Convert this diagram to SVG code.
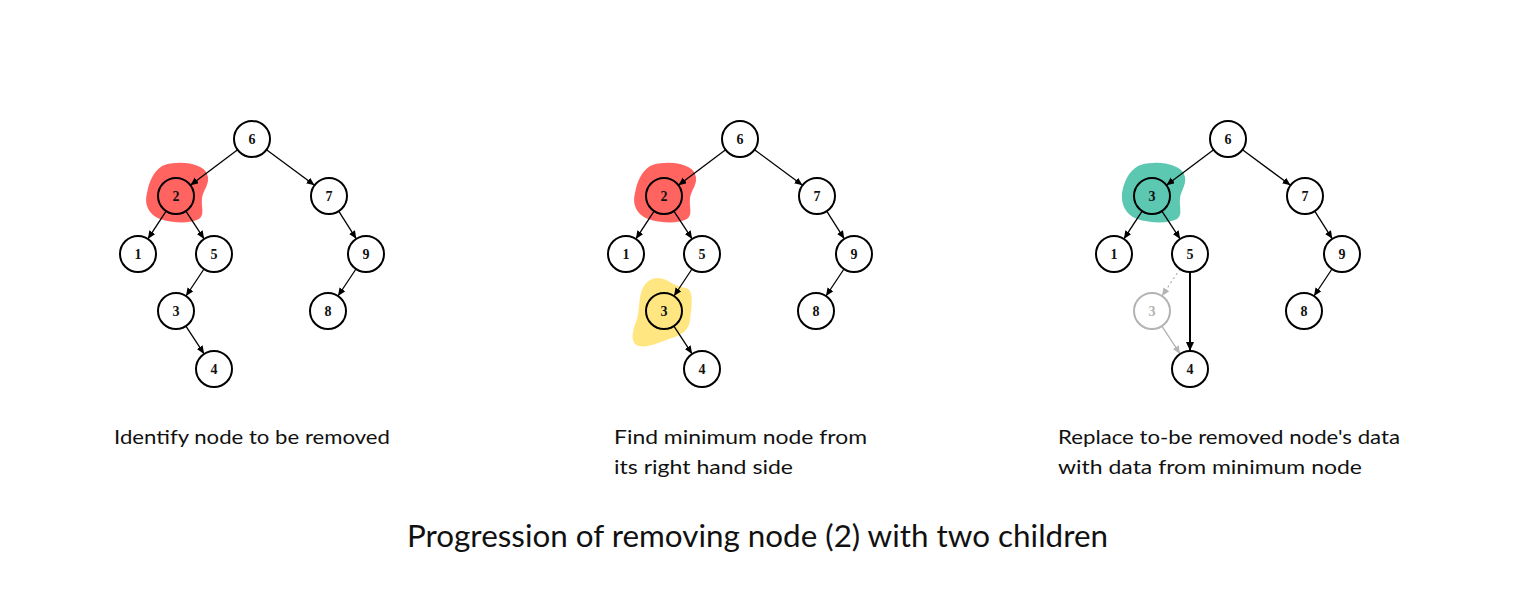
<svg xmlns="http://www.w3.org/2000/svg" width="1515" height="600" viewBox="0 0 1515 600">
<style>
.n circle{fill:none;stroke:#000;stroke-width:2}
.n text{font-family:"Liberation Serif",serif;font-weight:bold;font-size:14px;text-anchor:middle;dominant-baseline:central;fill:#111}
.g circle{stroke:#b3b3b3}
.g text{fill:#b3b3b3}
.e line{stroke:#000;stroke-width:1.3;marker-end:url(#ah)}
.e line.bold{stroke-width:2;marker-end:url(#ahb)}
.e line.gray{stroke:#b3b3b3;marker-end:url(#ahg)}
.e line.dot{stroke-dasharray:2 3}
.cap{font-family:Lato,"Open Sans",sans-serif;font-size:19px;fill:#111}
.title{font-family:Lato,"Open Sans",sans-serif;font-size:30px;fill:#111}
</style>
<defs>
<marker id="ah" markerUnits="userSpaceOnUse" markerWidth="9" markerHeight="8" refX="8" refY="3.5" orient="auto"><path d="M0,0 L8,3.5 L0,7 z" fill="#000"/></marker>
<marker id="ahb" markerUnits="userSpaceOnUse" markerWidth="10" markerHeight="9" refX="9" refY="4" orient="auto"><path d="M0,0 L9,4 L0,8 z" fill="#000"/></marker>
<marker id="ahg" markerUnits="userSpaceOnUse" markerWidth="9" markerHeight="8" refX="8" refY="3.5" orient="auto"><path d="M0,0 L8,3.5 L0,7 z" fill="#b3b3b3"/></marker>
</defs>
<rect width="1515" height="600" fill="#fff"/>

<!-- highlights -->
<g id="highlights">
<path fill="#ff6461" d="M177,163 C190,162 204,166 207,174 C211,183 203,190 202,198 C201,207 205,215 199,219 C190,224 172,223 160,219 C148,214 144,204 147,193 C149,182 153,172 162,166 C166,164 171,163 177,163 Z"/>
<path fill="#ff6461" d="M665,163 C678,162 692,166 695,174 C699,183 691,190 690,198 C689,207 693,215 687,219 C678,224 660,223 648,219 C636,214 632,204 635,193 C637,182 641,172 650,166 C654,164 659,163 665,163 Z"/>
<path fill="#ffe680" d="M658,278 C668,278 674,287 686,288 C694,290 692,305 690,320 C689,330 682,335 672,338 C660,342 648,348 639,346 C630,344 632,332 636,322 C640,312 638,300 642,290 C645,282 651,278 658,278 Z"/>
<path fill="#5dc8b1" d="M1153,163 C1166,162 1180,166 1184,174 C1188,183 1181,190 1180,198 C1179,207 1183,215 1177,219 C1168,224 1150,223 1137,219 C1125,214 1121,204 1122,193 C1124,182 1128,172 1138,166 C1142,164 1147,163 1153,163 Z"/>
</g>

<!-- connectors -->
<g id="connectors" class="e">
<g id="edges-1">
<line x1="237.6" y1="149.8" x2="190.4" y2="185.2"/>
<line x1="266.5" y1="149.7" x2="314.5" y2="185.3"/>
<line x1="166.1" y1="211.1" x2="147.9" y2="238.9"/>
<line x1="185.9" y1="211.1" x2="204.1" y2="238.9"/>
<line x1="338.7" y1="211.2" x2="356.3" y2="238.8"/>
<line x1="204" y1="269" x2="186" y2="296"/>
<line x1="356" y1="269" x2="338" y2="296"/>
<line x1="185.9" y1="326.1" x2="204.1" y2="353.9"/>
</g>
<g id="edges-2" transform="translate(488,0)">
<line x1="237.6" y1="149.8" x2="190.4" y2="185.2"/>
<line x1="266.5" y1="149.7" x2="314.5" y2="185.3"/>
<line x1="166.1" y1="211.1" x2="147.9" y2="238.9"/>
<line x1="185.9" y1="211.1" x2="204.1" y2="238.9"/>
<line x1="338.7" y1="211.2" x2="356.3" y2="238.8"/>
<line x1="204" y1="269" x2="186" y2="296"/>
<line x1="356" y1="269" x2="338" y2="296"/>
<line x1="185.9" y1="326.1" x2="204.1" y2="353.9"/>
</g>
<g id="edges-3" transform="translate(976,0)">
<line x1="237.6" y1="149.8" x2="190.4" y2="185.2"/>
<line x1="266.5" y1="149.7" x2="314.5" y2="185.3"/>
<line x1="166.1" y1="211.1" x2="147.9" y2="238.9"/>
<line x1="185.9" y1="211.1" x2="204.1" y2="238.9"/>
<line x1="338.7" y1="211.2" x2="356.3" y2="238.8"/>
<line class="gray dot" x1="204" y1="269" x2="186" y2="296"/>
<line x1="356" y1="269" x2="338" y2="296"/>
<line class="gray" x1="185.9" y1="326.1" x2="204.1" y2="353.9"/>
<line class="bold" x1="214" y1="272" x2="214" y2="351"/>
</g>
</g>

<!-- tree 1 -->
<g id="t1-n6" class="n"><circle cx="252" cy="139" r="18"/><text x="252" y="139">6</text></g>
<g id="t1-n2" class="n"><circle cx="176" cy="196" r="18"/><text x="176" y="196">2</text></g>
<g id="t1-n7" class="n"><circle cx="329" cy="196" r="18"/><text x="329" y="196">7</text></g>
<g id="t1-n1" class="n"><circle cx="138" cy="254" r="18"/><text x="138" y="254">1</text></g>
<g id="t1-n5" class="n"><circle cx="214" cy="254" r="18"/><text x="214" y="254">5</text></g>
<g id="t1-n9" class="n"><circle cx="366" cy="254" r="18"/><text x="366" y="254">9</text></g>
<g id="t1-n3" class="n"><circle cx="176" cy="311" r="18"/><text x="176" y="311">3</text></g>
<g id="t1-n8" class="n"><circle cx="328" cy="311" r="18"/><text x="328" y="311">8</text></g>
<g id="t1-n4" class="n"><circle cx="214" cy="369" r="18"/><text x="214" y="369">4</text></g>

<!-- tree 2 -->
<g id="t2-n6" class="n"><circle cx="740" cy="139" r="18"/><text x="740" y="139">6</text></g>
<g id="t2-n2" class="n"><circle cx="664" cy="196" r="18"/><text x="664" y="196">2</text></g>
<g id="t2-n7" class="n"><circle cx="817" cy="196" r="18"/><text x="817" y="196">7</text></g>
<g id="t2-n1" class="n"><circle cx="626" cy="254" r="18"/><text x="626" y="254">1</text></g>
<g id="t2-n5" class="n"><circle cx="702" cy="254" r="18"/><text x="702" y="254">5</text></g>
<g id="t2-n9" class="n"><circle cx="854" cy="254" r="18"/><text x="854" y="254">9</text></g>
<g id="t2-n3" class="n"><circle cx="664" cy="311" r="18"/><text x="664" y="311">3</text></g>
<g id="t2-n8" class="n"><circle cx="816" cy="311" r="18"/><text x="816" y="311">8</text></g>
<g id="t2-n4" class="n"><circle cx="702" cy="369" r="18"/><text x="702" y="369">4</text></g>

<!-- tree 3 -->
<g id="t3-n6" class="n"><circle cx="1228" cy="139" r="18"/><text x="1228" y="139">6</text></g>
<g id="t3-n3top" class="n"><circle cx="1152" cy="196" r="18"/><text x="1152" y="196">3</text></g>
<g id="t3-n7" class="n"><circle cx="1305" cy="196" r="18"/><text x="1305" y="196">7</text></g>
<g id="t3-n1" class="n"><circle cx="1114" cy="254" r="18"/><text x="1114" y="254">1</text></g>
<g id="t3-n5" class="n"><circle cx="1190" cy="254" r="18"/><text x="1190" y="254">5</text></g>
<g id="t3-n9" class="n"><circle cx="1342" cy="254" r="18"/><text x="1342" y="254">9</text></g>
<g id="t3-n3old" class="n g"><circle cx="1152" cy="311" r="18"/><text x="1152" y="311">3</text></g>
<g id="t3-n8" class="n"><circle cx="1304" cy="311" r="18"/><text x="1304" y="311">8</text></g>
<g id="t3-n4" class="n"><circle cx="1190" cy="369" r="18"/><text x="1190" y="369">4</text></g>

<!-- captions -->
<text class="cap" x="114" y="444" textLength="276" lengthAdjust="spacingAndGlyphs">Identify node to be removed</text>
<text class="cap" x="614" y="444" textLength="253" lengthAdjust="spacingAndGlyphs">Find minimum node from</text>
<text class="cap" x="614" y="474" textLength="179" lengthAdjust="spacingAndGlyphs">its right hand side</text>
<text class="cap" x="1058" y="444" textLength="342" lengthAdjust="spacingAndGlyphs">Replace to-be removed node's data</text>
<text class="cap" x="1058" y="474" textLength="304" lengthAdjust="spacingAndGlyphs">with data from minimum node</text>
<text class="title" x="407" y="547" textLength="701" lengthAdjust="spacingAndGlyphs">Progression of removing node (2) with two children</text>
</svg>
